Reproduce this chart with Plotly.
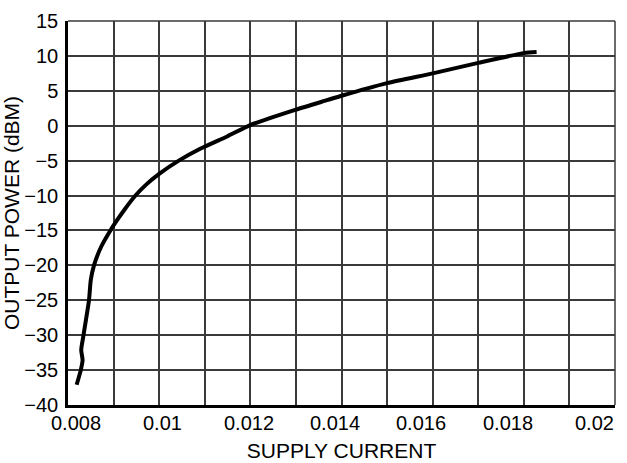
import plotly.graph_objects as go

# supply current (A) and output power (dBm)
supply_current = [0.00819, 0.00828, 0.00832, 0.00829, 0.00834, 0.00846, 0.00850,
                  0.00857, 0.00873, 0.00893, 0.00908, 0.00923, 0.00948, 0.00972,
                  0.0100, 0.01043, 0.0109, 0.0115, 0.0120, 0.0130, 0.0137,
                  0.0140, 0.0150, 0.0160, 0.0170, 0.0180, 0.01828]
output_power = [-37.1, -35.0, -33.6, -32.1, -30.0, -25.0, -22.1,
                -20.0, -17.3, -15.0, -13.5, -12.1, -10.0, -8.4,
                -6.9, -5.0, -3.3, -1.5, 0.1, 2.3, 3.7,
                4.3, 6.1, 7.5, 9.0, 10.4, 10.56]

x_gridvals = [0.008, 0.009, 0.010, 0.011, 0.012, 0.013, 0.014, 0.015,
              0.016, 0.017, 0.018, 0.019, 0.020]
x_labelvals = [0.008, 0.010, 0.012, 0.014, 0.016, 0.018, 0.020]
x_labeltext = ['0.008', '0.01', '0.012', '0.014', '0.016', '0.018', '0.02']
y_tickvals = [-40, -35, -30, -25, -20, -15, -10, -5, 0, 5, 10, 15]

x_range = [0.008, 0.020]
font = 'Liberation Sans, Arial, sans-serif'
grid_color = '#3a3a3a'

fig = go.Figure()

fig.add_trace(go.Scatter(
    x=supply_current,
    y=output_power,
    mode='lines',
    line=dict(color='black', width=4, shape='spline', smoothing=0.6),
    showlegend=False
))

fig.update_xaxes(
    range=x_range,
    tickvals=x_gridvals,
    showticklabels=False,
    showgrid=True,
    gridcolor=grid_color,
    gridwidth=1.5,
    showline=True,
    linecolor='black',
    linewidth=2.5,
    zeroline=False,
    ticks='',
    automargin=False,
    title=dict(text='SUPPLY CURRENT', font=dict(family=font, size=21, color='black'),
               standoff=37)
)

fig.update_yaxes(
    range=[-40, 15],
    tickvals=y_tickvals,
    showgrid=True,
    gridcolor=grid_color,
    gridwidth=1.5,
    showline=True,
    linecolor='black',
    linewidth=2.5,
    zeroline=False,
    ticks='',
    automargin=False,
    ticklabelstandoff=3,
    tickfont=dict(family=font, size=20, color='black'),
    title=dict(text='OUTPUT POWER (dBM)', font=dict(family=font, size=21, color='black'),
               standoff=2)
)

# x tick labels: the original typesetting packs them slightly inward
# (first label nudged right, last label nudged left)
span = x_range[1] - x_range[0]
for val, txt in zip(x_labelvals, x_labeltext):
    frac = (val - x_range[0]) / span
    fig.add_annotation(
        x=val, y=0, xref='x', yref='paper',
        text=txt, showarrow=False,
        xanchor='center', yanchor='top',
        xshift=8 - 29 * frac, yshift=-5,
        font=dict(family=font, size=20, color='black')
    )

# thin grey frame on the top and right sides
fig.add_shape(type='line', xref='paper', yref='paper', x0=0, x1=1, y0=1, y1=1,
              line=dict(color=grid_color, width=1.5))
fig.add_shape(type='line', xref='paper', yref='paper', x0=1, x1=1, y0=0, y1=1,
              line=dict(color=grid_color, width=1.5))

fig.update_layout(
    width=627,
    height=463,
    margin=dict(l=68, r=12, t=21, b=58),
    plot_bgcolor='white',
    paper_bgcolor='white',
    font=dict(family=font, color='black')
)

# drop the default page margin so the figure sits at the window's corner
fig.write_html("out.html", config={'displayModeBar': False},
               post_script="document.body.style.margin='0';")
